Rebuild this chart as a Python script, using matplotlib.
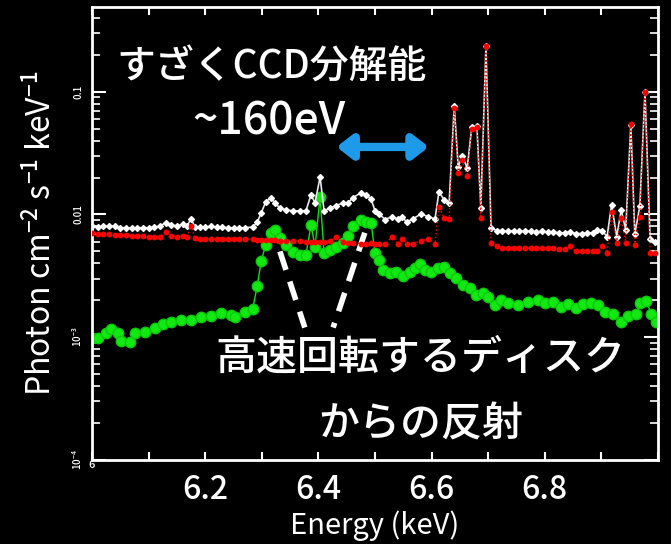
import numpy as np
import matplotlib
matplotlib.use('Agg')
import matplotlib.pyplot as plt

plt.rcParams['font.family'] = ['Noto Sans CJK JP', 'DejaVu Sans']
plt.rcParams['font.weight'] = 'medium'
plt.rcParams['mathtext.fontset'] = 'custom'
plt.rcParams['mathtext.rm'] = 'Noto Sans CJK JP:medium'
plt.rcParams['mathtext.it'] = 'Noto Sans CJK JP:medium'

# --- data (energy in keV, photons cm^-2 s^-1 keV^-1) ---
white_e = [6.000, 6.010, 6.020, 6.030, 6.040, 6.050, 6.060, 6.070, 6.080, 6.090,
           6.100, 6.110, 6.120, 6.130, 6.140, 6.150, 6.160, 6.168, 6.175, 6.182,
           6.190, 6.200, 6.210, 6.220, 6.230, 6.240, 6.250, 6.260, 6.270, 6.284,
           6.292, 6.299, 6.307, 6.316, 6.323, 6.332, 6.343, 6.355, 6.367, 6.378,
           6.387, 6.394, 6.403, 6.410, 6.420, 6.431, 6.443, 6.452, 6.461, 6.475,
           6.484, 6.493, 6.500, 6.507, 6.518, 6.530, 6.540, 6.547, 6.556, 6.567,
           6.581, 6.594, 6.606, 6.613, 6.622, 6.631, 6.640, 6.647, 6.654, 6.663,
           6.671, 6.680, 6.687, 6.696, 6.705, 6.715, 6.725, 6.735, 6.745, 6.755,
           6.765, 6.775, 6.785, 6.795, 6.805, 6.815, 6.825, 6.835, 6.845, 6.855,
           6.865, 6.875, 6.885, 6.893, 6.901, 6.910, 6.918, 6.927, 6.935, 6.943,
           6.952, 6.959, 6.968, 6.977, 6.986, 6.995]
white_v = [0.0080, 0.0079, 0.0080, 0.0081, 0.0080, 0.0078, 0.0078, 0.0077, 0.0078, 0.0078,
           0.0078, 0.0079, 0.0080, 0.0086, 0.0082, 0.0081, 0.0083, 0.0081, 0.0092, 0.0079,
           0.0079, 0.0079, 0.0080, 0.0079, 0.0079, 0.0078, 0.0078, 0.0078, 0.0078, 0.0079,
           0.0087, 0.0103, 0.0127, 0.0137, 0.0124, 0.0113, 0.0109, 0.0107, 0.0107, 0.0107,
           0.0145, 0.0124, 0.0202, 0.0107, 0.0113, 0.0118, 0.0124, 0.0124, 0.0137, 0.0150,
           0.0145, 0.0134, 0.0107, 0.0101, 0.0091, 0.0096, 0.0092, 0.0096, 0.0087, 0.0092,
           0.0101, 0.0096, 0.0092, 0.0153, 0.0132, 0.0124, 0.0765, 0.0244, 0.0300, 0.0240,
           0.0516, 0.0526, 0.0113, 0.2350, 0.0078, 0.0074, 0.0074, 0.0073, 0.0074, 0.0073,
           0.0073, 0.0073, 0.0072, 0.0073, 0.0072, 0.0072, 0.0071, 0.0071, 0.0072, 0.0070,
           0.0070, 0.0071, 0.0071, 0.0075, 0.0074, 0.0066, 0.0120, 0.0066, 0.0109, 0.0075,
           0.0540, 0.0069, 0.0118, 0.1000, 0.0063, 0.0060]

red_e = white_e
red_v = [0.0071, 0.0070, 0.0069, 0.0069, 0.0068, 0.0068, 0.0068, 0.0067, 0.0067, 0.0067,
         0.0066, 0.0066, 0.0066, 0.0072, 0.0067, 0.0066, 0.0067, 0.0065, 0.0081, 0.0064,
         0.0063, 0.0063, 0.0063, 0.0063, 0.0063, 0.0063, 0.0063, 0.0063, 0.0063, 0.0063,
         0.0062, 0.0062, 0.0062, 0.0062, 0.0062, 0.0061, 0.0061, 0.0061, 0.0061, 0.0060,
         0.0060, 0.0060, 0.0060, 0.0060, 0.0061, 0.0066, 0.0060, 0.0059, 0.0059, 0.0058,
         0.0058, 0.0059, 0.0058, 0.0057, 0.0057, 0.0066, 0.0058, 0.0063, 0.0057, 0.0058,
         0.0061, 0.0063, 0.0058, 0.0116, 0.0094, 0.0092, 0.0736, 0.0218, 0.0279, 0.0206,
         0.0498, 0.0516, 0.0094, 0.2350, 0.0059, 0.0055, 0.0053, 0.0053, 0.0053, 0.0053,
         0.0053, 0.0053, 0.0053, 0.0053, 0.0053, 0.0053, 0.0052, 0.0052, 0.0055, 0.0050,
         0.0050, 0.0050, 0.0050, 0.0050, 0.0055, 0.0049, 0.0105, 0.0059, 0.0094, 0.0059,
         0.0546, 0.0056, 0.0096, 0.1000, 0.0049, 0.0049]

green_e = [6.000, 6.011, 6.025, 6.034, 6.046, 6.051, 6.067, 6.076, 6.094, 6.111,
           6.125, 6.140, 6.157, 6.175, 6.193, 6.210, 6.228, 6.246, 6.253, 6.270,
           6.284, 6.292, 6.299, 6.307, 6.316, 6.323, 6.332, 6.343, 6.355, 6.367,
           6.378, 6.387, 6.394, 6.403, 6.410, 6.420, 6.431, 6.443, 6.452, 6.461,
           6.475, 6.484, 6.493, 6.500, 6.507, 6.514, 6.527, 6.537, 6.549, 6.562,
           6.571, 6.580, 6.588, 6.599, 6.611, 6.622, 6.633, 6.643, 6.655, 6.668,
           6.678, 6.691, 6.700, 6.712, 6.723, 6.735, 6.753, 6.770, 6.788, 6.800,
           6.814, 6.829, 6.841, 6.855, 6.867, 6.882, 6.894, 6.906, 6.920, 6.935,
           6.947, 6.961, 6.968, 6.979, 6.988, 6.996]
green_v = [0.000995, 0.000995, 0.00109, 0.00116, 0.00109, 0.00094, 0.000923, 0.00109, 0.00111, 0.00118,
           0.00129, 0.00132, 0.00137, 0.00139, 0.00145, 0.00150, 0.00159, 0.00153, 0.00147, 0.00162,
           0.00171, 0.00263, 0.00420, 0.00567, 0.00710, 0.00750, 0.00646, 0.00567, 0.00497, 0.00470,
           0.00470, 0.00825, 0.00546, 0.01390, 0.00488, 0.00516, 0.00546, 0.00589, 0.00671, 0.00810,
           0.00905, 0.00872, 0.00857, 0.00488, 0.00428, 0.00355, 0.00336, 0.00342, 0.00318, 0.00342,
           0.00369, 0.00397, 0.00355, 0.00342, 0.00369, 0.00375, 0.00336, 0.00306, 0.00268, 0.00254,
           0.00222, 0.00231, 0.00214, 0.00184, 0.00202, 0.00191, 0.00184, 0.00195, 0.00202, 0.00191,
           0.00195, 0.00177, 0.00188, 0.00174, 0.00188, 0.00191, 0.00184, 0.00162, 0.00156, 0.00134,
           0.00150, 0.00156, 0.00191, 0.00199, 0.00156, 0.00134]

x_ticks = [6.2, 6.4, 6.6, 6.8]
y_ticks = [1e-4, 1e-3, 1e-2, 1e-1]
y_ticklabels = ['10$^{-4}$', '10$^{-3}$', '0.01', '0.1']

fig = plt.figure(figsize=(6.71, 5.44), dpi=100, facecolor='black')
ax = fig.add_axes([92/671, 84/544, 566/671, 453/544], facecolor='black')

ax.plot(green_e, green_v, color='#10e010', lw=1, marker='o', ms=7.5,
        mec='#0cc80c', mfc='#12e812', zorder=2)
ax.plot(white_e, white_v, color='#e8e8e8', lw=1.2, marker='D', ms=3,
        mfc='white', mec='white', zorder=3)
ax.plot(red_e, red_v, color='red', lw=1, ls=':', marker='o', ms=3.2, zorder=4)

ax.set_yscale('log')
ax.set_xlim(6.0, 7.0)
ax.set_ylim(1e-4, 0.49)

for s in ax.spines.values():
    s.set_color('white')
    s.set_linewidth(2)

xt = np.arange(6.0, 7.001, 0.1)
ax.set_xticks(xt)
ax.set_xticklabels([f'{t:.1f}' if round(t, 1) in x_ticks else '' for t in xt])
ax.tick_params(axis='x', which='major', direction='in', length=6, width=1.5,
               colors='white', labelsize=23, pad=10, top=True)
ax.set_yticks(y_ticks)
ax.set_yticklabels(y_ticklabels, rotation=90, va='center', fontsize=7)
ax.tick_params(axis='y', which='major', direction='in', length=10, width=1.5,
               colors='white', pad=6, right=True)
ax.tick_params(axis='y', which='minor', direction='in', length=6, width=1.2,
               colors='white', right=True)
ax.text(6.0, 1e-4, '6', color='white', fontsize=8, ha='center', va='top')

ax.set_xlabel('Energy (keV)', color='white', fontsize=21, labelpad=3)
ax.set_ylabel('Photon cm$^{-2}$ s$^{-1}$ keV$^{-1}$', color='white', fontsize=23,
              labelpad=9)

# annotations
fig.text(0.405, 0.875, 'すざくCCD分解能', color='white', fontsize=28,
         ha='center', va='center')
fig.text(0.40, 0.776, '~160eV', color='white', fontsize=32, ha='center', va='center')
fig.text(0.626, 0.342, '高速回転するディスク', color='white', fontsize=29.5,
         ha='center', va='center')
fig.text(0.627, 0.219, 'からの反射', color='white', fontsize=29.5,
         ha='center', va='center')

ax.annotate('', xy=(6.595, 0.0355), xytext=(6.432, 0.0355),
            arrowprops=dict(arrowstyle='<|-|>,head_length=0.9,head_width=0.7',
                            color='#1e9be8', lw=6, shrinkA=0, shrinkB=0))
ax.plot([6.332, 6.376], [0.0050, 0.0012], color='white', lw=4, ls=(0, (3.5, 2.2)))
ax.plot([6.482, 6.426], [0.0071, 0.0012], color='white', lw=4, ls=(0, (3.5, 2.2)))

fig.savefig('out.png', dpi=100, facecolor='black')
